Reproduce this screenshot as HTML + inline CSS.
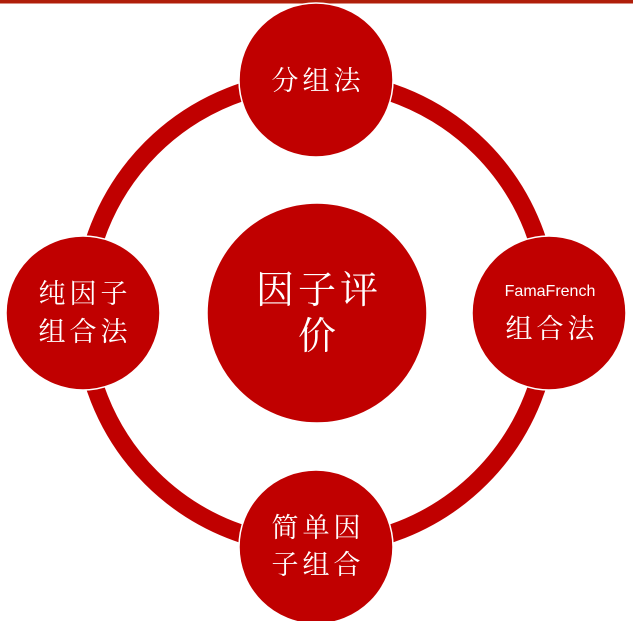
<!DOCTYPE html>
<html><head><meta charset="utf-8"><style>
html,body{margin:0;padding:0;background:#fff;width:633px;height:621px;overflow:hidden}
svg{display:block}
text{fill:#fff;font-family:"Liberation Serif","Noto Serif CJK SC",serif;text-anchor:middle}
.k{letter-spacing:4px}
</style></head><body>
<svg width="633" height="621" viewBox="0 0 633 621">
<rect x="0" y="0" width="633" height="3.5" fill="#b01e0a"/>
<circle cx="316" cy="313" r="233" fill="none" stroke="#c00000" stroke-width="18"/>
<g fill="#c00000" stroke="#fff" stroke-width="1.5">
<circle cx="316" cy="80" r="77"/>
<circle cx="317" cy="313" r="110"/>
<circle cx="83" cy="313" r="77"/>
<circle cx="549" cy="313" r="77"/>
<circle cx="316" cy="547" r="77"/>
</g>
<text class="k" x="318" y="90" font-size="27">分组法</text>
<text class="k" x="319" y="303" font-size="38">因子评</text>
<text x="317" y="349" font-size="38">价</text>
<text class="k" x="85" y="303" font-size="27">纯因子</text>
<text class="k" x="85" y="341" font-size="27">组合法</text>
<text x="550" y="296" font-size="16" style="font-family:'Liberation Sans',sans-serif">FamaFrench</text>
<text class="k" x="552" y="338" font-size="27">组合法</text>
<text class="k" x="318" y="537" font-size="27">简单因</text>
<text class="k" x="318" y="574" font-size="27">子组合</text>
</svg>
</body></html>
